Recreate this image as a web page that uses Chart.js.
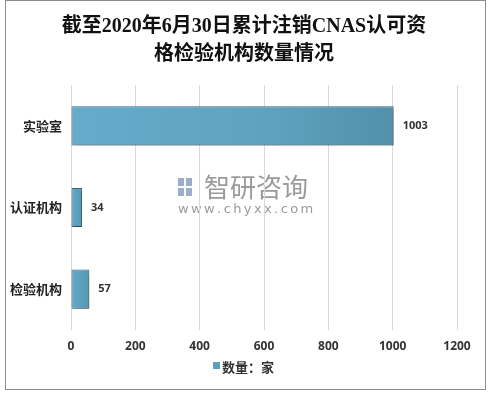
<!DOCTYPE html>
<html>
<head>
<meta charset="utf-8">
<script src="https://cdn.jsdelivr.net/npm/chart.js@4.4.1/dist/chart.umd.min.js"></script>
<style>
  html, body { margin: 0; padding: 0; background: #fff; }
  #wrap { position: relative; width: 491px; height: 396px; }
</style>
</head>
<body>
<div id="wrap"><canvas id="myChart" width="491" height="396"></canvas></div>
<script>
// data
var categories = ["实验室", "认证机构", "检验机构"];
var counts = [1003, 34, 57];
var xTicks = [0, 200, 400, 600, 800, 1000, 1200];
var titleLines = ["截至2020年6月30日累计注销CNAS认可资", "格检验机构数量情况"];
var seriesName = "数量：家";

var sansFont = "'Open Sans', 'Noto Sans CJK SC', sans-serif";

// frame, title, legend, watermark, value labels
var decor = {
    id: "decor",
    beforeDraw: function (chart) {
        var ctx = chart.ctx;
        ctx.save();
        ctx.fillStyle = "#fff";
        ctx.fillRect(0, 0, chart.width, chart.height);
        ctx.strokeStyle = "#8c8c8c";
        ctx.lineWidth = 1;
        ctx.strokeRect(5.5, 0.5, 480, 389);

        // watermark
        ctx.fillStyle = "rgba(120,120,120,0.75)";
        ctx.font = "26px 'Noto Sans CJK SC', sans-serif";
        ctx.textBaseline = "middle";
        ctx.textAlign = "left";
        ctx.fillText("智研咨询", 204, 187);
        ctx.fillStyle = "rgba(90,120,170,0.6)";
        ctx.fillRect(178, 178, 6, 8);
        ctx.fillRect(186, 178, 6, 8);
        ctx.fillRect(178, 188, 6, 8);
        ctx.fillRect(186, 188, 6, 8);
        ctx.fillStyle = "rgba(120,120,120,0.75)";
        ctx.font = "13px 'DejaVu Sans', sans-serif";
        var url = "www.chyxx.com";
        var x = 178;
        for (var i = 0; i < url.length; i++) {
            ctx.fillText(url[i], x, 210);
            x += ctx.measureText(url[i]).width + 2.4;
        }
        ctx.restore();
    },
    beforeDatasetsDraw: function (chart) {
        var ctx = chart.ctx;
        ctx.save();
        ctx.shadowColor = "rgba(0,0,0,0.35)";
        ctx.shadowOffsetX = 2;
        ctx.shadowOffsetY = 2;
        ctx.shadowBlur = 3;
    },
    afterDatasetsDraw: function (chart) {
        var ctx = chart.ctx;
        ctx.restore();
        ctx.save();
        ctx.fillStyle = "#333";
        ctx.font = "bold 11px " + sansFont;
        ctx.textBaseline = "middle";
        ctx.textAlign = "left";
        var meta = chart.getDatasetMeta(0);
        meta.data.forEach(function (bar, i) {
            ctx.fillText(String(counts[i]), bar.x + 9, bar.y);
        });
        ctx.restore();
    },
    afterDraw: function (chart) {
        var ctx = chart.ctx;
        ctx.save();
        ctx.fillStyle = "#111";
        ctx.textAlign = "center";
        ctx.textBaseline = "middle";
        ctx.font = "bold 20px 'Liberation Serif', 'Noto Sans CJK SC', serif";
        ctx.fillText(titleLines[0], 244, 27);
        ctx.fillText(titleLines[1], 244, 55);

        // legend
        ctx.fillStyle = "#5c9fbf";
        ctx.fillRect(213, 362, 7, 7);
        ctx.fillStyle = "#333";
        ctx.textAlign = "left";
        ctx.font = "bold 13px 'Noto Sans CJK SC', sans-serif";
        ctx.fillText(seriesName, 222, 367);
        ctx.restore();
    }
};

function barFill(context) {
    var chart = context.chart;
    var xs = chart.scales.x;
    if (!xs || !chart.chartArea) return "#5ea3c3";
    var v = context.raw || 0;
    var x0 = xs.getPixelForValue(0);
    var x1 = xs.getPixelForValue(v);
    var g = chart.ctx.createLinearGradient(x0, 0, x1, 0);
    if (v > 200) {
        g.addColorStop(0, "#66abca");
        g.addColorStop(0.6, "#5fa2c0");
        g.addColorStop(1, "#5290aa");
    } else {
        g.addColorStop(0, "#66abca");
        g.addColorStop(1, "#5596b2");
    }
    return g;
}

function graph() {
    window.myChart = new Chart("myChart", {
        type: "bar",
        data: {
            labels: categories,
            datasets: [{
                label: seriesName,
                data: counts,
                backgroundColor: barFill,
                borderColor: "#3e6b80",
                borderWidth: 1,
                borderSkipped: false,
                categoryPercentage: 0.8,
                barPercentage: 0.6
            }]
        },
        options: {
            indexAxis: "y",
            responsive: false,
            animation: false,
            layout: { padding: { top: 85, left: 0, right: 34, bottom: 36 } },
            plugins: {
                legend: { display: false },
                title: { display: false },
                tooltip: { enabled: false }
            },
            scales: {
                x: {
                    min: 0,
                    max: xTicks[xTicks.length - 1],
                    afterBuildTicks: function (scale) {
                        scale.ticks = xTicks.map(function (v) { return { value: v }; });
                    },
                    afterFit: function (scale) { scale.height = 30; },
                    grid: { color: "#d9d9d9", drawTicks: false },
                    border: { display: false },
                    ticks: {
                        padding: 9,
                        color: "#333",
                        font: { family: sansFont, size: 12, weight: "bold" },
                        callback: function (v) { return String(v); }
                    }
                },
                y: {
                    afterFit: function (scale) { scale.width = 71; },
                    grid: { display: false, drawTicks: false },
                    border: { display: false },
                    ticks: {
                        padding: 9,
                        color: "#222",
                        font: { family: "'Noto Sans CJK SC', sans-serif", size: 13, weight: "bold" }
                    }
                }
            }
        },
        plugins: [decor]
    });
}
document.addEventListener("DOMContentLoaded", function () {
    graph();
});
</script>
</body>
</html>
